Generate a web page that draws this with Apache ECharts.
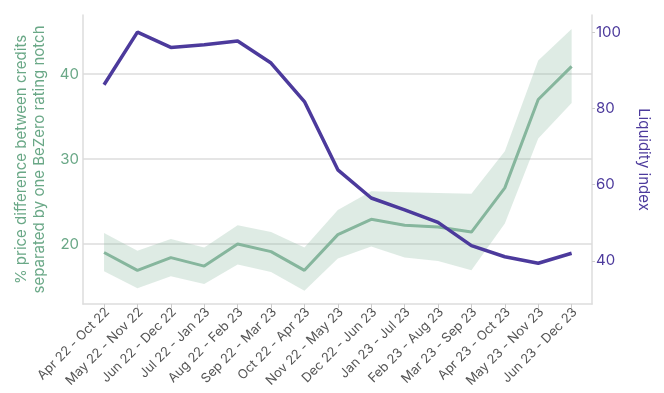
<!DOCTYPE html>
<html><head><meta charset="utf-8">
<script src="https://cdn.jsdelivr.net/npm/echarts@6/dist/echarts.min.js"></script>
<style>html,body{margin:0;padding:0;background:#fff}#c{width:664px;height:393px}</style>
</head><body><div id="c"></div>
<script>
const categories = ["Apr 22 - Oct 22","May 22 - Nov 22","Jun 22 - Dec 22","Jul 22 - Jan 23","Aug 22 - Feb 23","Sep 22 - Mar 23","Oct 22 - Apr 23","Nov 22 - May 23","Dec 22 - Jun 23","Jan 23 - Jul 23","Feb 23 - Aug 23","Mar 23 - Sep 23","Apr 23 - Oct 23","May 23 - Nov 23","Jun 23 - Dec 23"];
const priceDiff      = [19.0, 16.9, 18.4, 17.4, 20.0, 19.1, 16.9, 21.1, 22.9, 22.2, 22.0, 21.4, 26.6, 37.0, 40.9];
const priceDiffUpper = [21.3, 19.2, 20.6, 19.6, 22.2, 21.4, 19.6, 24.0, 26.2, 26.1, 26.0, 25.9, 30.9, 41.6, 45.3];
const priceDiffLower = [16.8, 14.8, 16.2, 15.3, 17.6, 16.7, 14.5, 18.3, 19.7, 18.4, 18.0, 16.9, 22.4, 32.4, 36.6];
const liquidity      = [86.2, 100.0, 96.0, 96.7, 97.7, 91.9, 81.8, 63.9, 56.5, 53.4, 50.1, 44.0, 41.1, 39.4, 42.0];
const leftTicks = [20, 30, 40];
const rightTicks = [40, 60, 80, 100];

const GREEN = '#86b69d';
const GREEN_TXT = '#6aa887';
const PURPLE = '#4c3a9c';
const FONT = 'Inter';
const idx = categories.map((_, i) => i);
const labelPos = idx.map(i => i + 0.1);
const pairs = arr => arr.map((v, i) => [i, v]);

const chart = echarts.init(document.getElementById('c'), null, {renderer: 'canvas'});
chart.setOption({
  animation: false,
  textStyle: {fontFamily: FONT},
  grid: {left: 83, right: 72, top: 15, bottom: 89, containLabel: false},
  xAxis: {
    type: 'value', min: -0.63, max: 14.61,
    axisLine: {show: true, onZero: false, lineStyle: {color: '#dddddd', width: 1.5}},
    axisTick: {show: true, customValues: idx, length: 4, lineStyle: {color: '#cccccc'}},
    axisLabel: {customValues: labelPos, formatter: v => categories[Math.round(v)], rotate: 45,
      fontSize: 13, color: '#555555', margin: 6, fontFamily: FONT},
    splitLine: {show: false}
  },
  yAxis: [{
    type: 'value', position: 'left', min: 12.94, max: 46.94, splitNumber: 3,
    name: '% price difference between credits\nseparated by one BeZero rating notch',
    nameLocation: 'middle', nameGap: 34, nameRotate: 90,
    nameTextStyle: {color: GREEN_TXT, fontSize: 15, lineHeight: 18, fontFamily: FONT},
    axisLine: {show: true, onZero: false, lineStyle: {color: '#dddddd', width: 1.5}},
    axisTick: {show: false, customValues: leftTicks},
    axisLabel: {customValues: leftTicks, color: GREEN_TXT, fontSize: 15, margin: 4, fontFamily: FONT},
    splitLine: {show: true, lineStyle: {color: '#dddddd', width: 1.5}}
  }, {
    type: 'value', position: 'right', min: 28.7, max: 104.5,
    name: 'Liquidity index', nameLocation: 'middle', nameGap: 44, nameRotate: -90,
    nameTextStyle: {color: PURPLE, fontSize: 15, fontFamily: FONT},
    axisLine: {show: true, onZero: false, lineStyle: {color: '#dddddd', width: 1.5}},
    axisTick: {show: true, customValues: rightTicks, length: 3, lineStyle: {color: '#cccccc'}},
    axisLabel: {customValues: rightTicks, color: PURPLE, fontSize: 15, margin: 4, fontFamily: FONT},
    splitLine: {show: false}
  }],
  series: [{
    type: 'custom', silent: true, z: 1,
    data: idx,
    encode: {x: 0},
    renderItem: (params, api) => {
      if (params.dataIndex !== 0) return null;
      const pts = priceDiffUpper.map((v, i) => api.coord([i, v]))
        .concat(priceDiffLower.map((v, i) => api.coord([i, v])).reverse());
      return {type: 'polygon', shape: {points: pts}, style: {fill: 'rgba(134,182,157,0.27)'}};
    }
  }, {
    type: 'line', data: pairs(priceDiff), symbol: 'none',
    lineStyle: {color: GREEN, width: 3}, z: 3
  }, {
    type: 'line', yAxisIndex: 1, data: pairs(liquidity), symbol: 'none',
    lineStyle: {color: PURPLE, width: 3.5}, z: 4
  }]
});
</script>
</body></html>
